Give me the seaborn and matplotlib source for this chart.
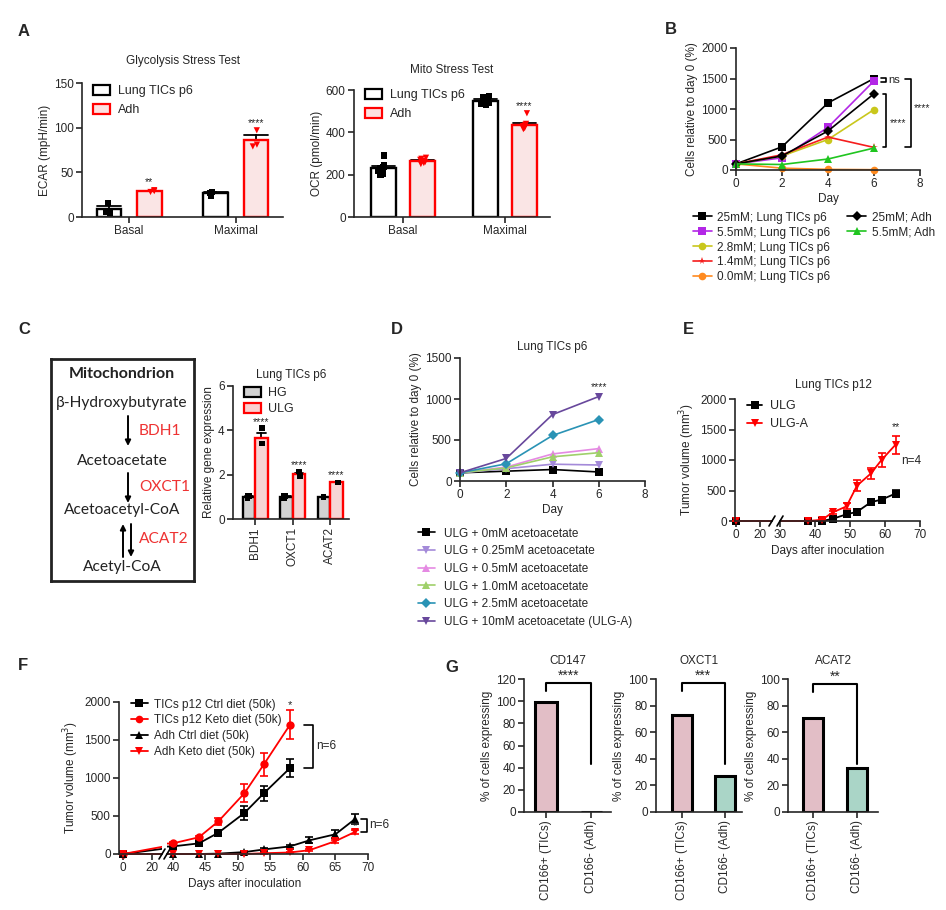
import numpy as np
import pandas as pd
import seaborn as sns
import matplotlib.pyplot as plt
from matplotlib.patches import Patch
from matplotlib.lines import Line2D
from matplotlib.markers import MarkerStyle
from matplotlib.transforms import Bbox, TransformedBbox

np.random.seed(3)

# ---------------- data ----------------
# A - seahorse
sh_groups = ['Lung TICs p6', 'Adh']
sh_phases = ['Basal', 'Maximal']
ecar_tic_basal = [16, 5, 6]
ecar_adh_basal = [28, 30, 29]
ecar_tic_max = [24, 28, 27]
ecar_adh_max = [97, 79, 81]
ocr_tic_basal = [290, 200, 245, 235, 220, 205, 230, 215]
ocr_adh_basal = [275, 260, 265, 270, 255, 280, 262, 250]
ocr_tic_max = [560, 570, 540, 530, 555, 545, 565, 535]
ocr_adh_max = [490, 440, 425, 430, 420, 435, 415, 425]

# B - glucose titration
b_days = [0, 2, 4, 6]
b_labels = ['25mM; Lung TICs p6', '5.5mM; Lung TICs p6', '2.8mM; Lung TICs p6',
            '1.4mM; Lung TICs p6', '0.0mM; Lung TICs p6', '25mM; Adh', '5.5mM; Adh']
b_25_tic = [100, 380, 1100, 1500]
b_55_tic = [100, 200, 700, 1460]
b_28_tic = [100, 230, 500, 990]
b_14_tic = [100, 250, 540, 370]
b_00_tic = [100, 30, 10, 5]
b_25_adh = [100, 230, 640, 1250]
b_55_adh = [100, 90, 180, 360]
b_colors = ['black', '#b327e6', '#c9c71c', '#f51d1d', '#ff8a1f', 'black', '#20c520']
b_markers = ['s', 's', 'o', '*', 'o', 'D', '^']

# C - ketolysis genes
c_genes = ['BDH1', 'OXCT1', 'ACAT2']
c_hg_bdh1 = [0.95, 1.05, 1.03]
c_hg_oxct1 = [0.95, 1.05, 1.03]
c_hg_acat2 = [1.0, 1.0, 1.0]
c_ulg_bdh1 = [4.1, 3.4, 3.4]
c_ulg_oxct1 = [2.15, 1.95, 1.95]
c_ulg_acat2 = [1.65, 1.65, 1.65]

# D - acetoacetate rescue
d_days = [0, 2, 4, 6]
d_labels = ['ULG + 0mM acetoacetate', 'ULG + 0.25mM acetoacetate', 'ULG + 0.5mM acetoacetate',
            'ULG + 1.0mM acetoacetate', 'ULG + 2.5mM acetoacetate', 'ULG + 10mM acetoacetate (ULG-A)']
d_0 = [100, 120, 140, 110]
d_025 = [100, 150, 205, 195]
d_05 = [100, 170, 330, 395]
d_10 = [100, 160, 295, 345]
d_25 = [100, 210, 555, 750]
d_100 = [100, 275, 810, 1030]
d_colors = ['black', '#a48ad9', '#e58ae3', '#9fd06a', '#2a93b5', '#68489c']
d_markers = ['s', 'v', '^', '^', 'D', 'v']

# E - xenograft ULG vs ULG-A
e_days = [0, 38, 42, 45, 49, 52, 56, 59, 63]
e_ulg = [0, 0, 0, 35, 110, 150, 310, 350, 450]
e_ulg_sem = [0, 0, 0, 10, 20, 20, 30, 30, 60]
e_ulga = [0, 0, 20, 140, 240, 580, 780, 1000, 1250]
e_ulga_sem = [0, 0, 10, 30, 50, 90, 90, 120, 150]

# F - keto diet
f_tic_days = [0, 40, 44, 47, 51, 54, 58]
f_tic_ctrl = [0, 100, 140, 280, 540, 800, 1130]
f_tic_ctrl_sem = [0, 20, 20, 30, 90, 100, 120]
f_tic_keto = [0, 140, 220, 430, 800, 1180, 1700]
f_tic_keto_sem = [0, 20, 20, 50, 120, 150, 190]
f_adh_days = [0, 40, 44, 47, 51, 54, 58, 61, 65, 68]
f_adh_ctrl = [0, 0, 0, 5, 25, 60, 100, 180, 260, 460]
f_adh_ctrl_sem = [0, 0, 0, 0, 10, 15, 20, 40, 50, 70]
f_adh_keto = [0, 0, 0, 0, 0, 10, 20, 50, 170, 290]
f_adh_keto_sem = [0, 0, 0, 0, 0, 5, 10, 15, 20, 30]

# G - single cell
g_groups = ['CD166+ (TICs)', 'CD166- (Adh)']
g_cd147 = [99, 0]
g_oxct1 = [73, 27]
g_acat2 = [71, 33]

# ---------------- style ----------------
sns.set_theme(style='ticks')
plt.rcParams['font.family'] = ['Liberation Sans', 'DejaVu Sans']
plt.rcParams.update({
    'font.size': 8.5, 'axes.labelsize': 8.5, 'axes.titlesize': 8.5,
    'xtick.labelsize': 8.5, 'ytick.labelsize': 8.5, 'legend.fontsize': 8.5,
    'axes.linewidth': 1.2, 'xtick.major.width': 1.2, 'ytick.major.width': 1.2,
    'xtick.major.size': 4, 'ytick.major.size': 4, 'axes.labelpad': 2,
    'xtick.major.pad': 2, 'ytick.major.pad': 2,
})

W, H = 946, 910
fig = plt.figure(figsize=(W / 100, H / 100), dpi=100)


def add_ax(l, t, r, b):
    ax = fig.add_axes([l / W, 1 - b / H, (r - l) / W, (b - t) / H])
    ax.spines[['top', 'right']].set_visible(False)
    return ax


def ftext(x, y, s, **kw):
    fig.text(x / W, 1 - y / H, s, **kw)


def hue_bars(ax, df, face, edge, width, gap, marker_by_color=None, ms=4.5):
    hue_order = list(dict.fromkeys(df['grp']))
    sns.barplot(df, x='x', y='y', hue='grp', hue_order=hue_order, palette=face,
                width=width, gap=gap, errorbar='se', capsize=0.45,
                err_kws={'linewidth': 1.3}, linewidth=1.7, edgecolor='black',
                legend=False, ax=ax)
    bars = []
    for cont, g in zip(ax.containers, hue_order):
        for p in cont:
            p.set_edgecolor(edge[g])
            bars.append(p)
    for ln in ax.lines:
        xm = np.mean(ln.get_xdata())
        p = min(bars, key=lambda q: abs(q.get_x() + q.get_width() / 2 - xm))
        ln.set_color(p.get_edgecolor())
        ln.set_zorder(0.9)
    n0 = len(ax.collections)
    pt_colors = {g: ('red' if edge[g] == 'red' and marker_by_color else 'black') for g in hue_order}
    sns.stripplot(df, x='x', y='y', hue='grp', hue_order=hue_order, palette=pt_colors,
                  dodge=True, jitter=0.09, size=ms, marker='s', linewidth=0,
                  legend=False, ax=ax, zorder=3)
    if marker_by_color:
        m = MarkerStyle('v')
        vpath = m.get_path().transformed(m.get_transform())
        for coll in ax.collections[n0:]:
            fc = coll.get_facecolor()
            if len(fc) and fc[0][0] > 0.9 and fc[0][1] < 0.1:
                coll.set_paths([vpath])
    return ax.containers


def long_df(xs, ys, groups):
    rows = []
    for x, y, g in zip(xs, ys, groups):
        rows.append(pd.DataFrame({'x': x, 'y': y, 'grp': g}))
    return pd.concat(rows, ignore_index=True)


# ---------------- panel A ----------------
sh_face = {'Lung TICs p6': 'white', 'Adh': '#fde1e1'}
sh_edge = {'Lung TICs p6': 'black', 'Adh': 'red'}
sh_handles = [Patch(facecolor='white', edgecolor='black', lw=1.6),
              Patch(facecolor='#fde1e1', edgecolor='red', lw=1.6)]

axA1 = add_ax(82, 83, 283, 217)
gly = long_df([['Basal'] * 3, ['Basal'] * 3, ['Maximal'] * 3, ['Maximal'] * 3],
              [ecar_tic_basal, ecar_adh_basal, ecar_tic_max, ecar_adh_max],
              ['Lung TICs p6', 'Adh', 'Lung TICs p6', 'Adh'])
conts = hue_bars(axA1, gly, sh_face, sh_edge, 0.76, 0.4, marker_by_color=True)
axA1.set_xlim(-0.44, 1.44)
axA1.set_ylim(0, 150)
axA1.set_yticks([0, 50, 100, 150])
axA1.set_xlabel('')
axA1.set_ylabel('ECAR (mpH/min)')
axA1.set_title('Glycolysis Stress Test', pad=14)
for p, s, yy in zip(conts[1], ['**', '****'], [34, 100]):
    axA1.text(p.get_x() + p.get_width() / 2, yy, s, ha='center', va='bottom', fontsize=7.5)
axA1.legend(sh_handles, sh_groups, loc='upper left', bbox_to_anchor=(0.0, 1.07),
            frameon=False, handlelength=1.3, handleheight=0.9, labelspacing=0.5,
            handletextpad=0.7, fontsize=9)

axA2 = add_ax(354, 90, 550, 217)
mito = long_df([['Basal'] * 8, ['Basal'] * 8, ['Maximal'] * 8, ['Maximal'] * 8],
               [ocr_tic_basal, ocr_adh_basal, ocr_tic_max, ocr_adh_max],
               ['Lung TICs p6', 'Adh', 'Lung TICs p6', 'Adh'])
conts = hue_bars(axA2, mito, sh_face, sh_edge, 0.76, 0.37, marker_by_color=True)
axA2.set_xlim(-0.48, 1.44)
axA2.set_ylim(0, 600)
axA2.set_yticks([0, 200, 400, 600])
axA2.set_xlabel('')
axA2.set_ylabel('OCR (pmol/min)')
axA2.set_title('Mito Stress Test', pad=12)
p = conts[1][1]
axA2.text(p.get_x() + p.get_width() / 2, 500, '****', ha='center', va='bottom', fontsize=7.5)
axA2.legend(sh_handles, sh_groups, loc='upper left', bbox_to_anchor=(0.0, 1.097),
            frameon=False, handlelength=1.3, handleheight=0.9, labelspacing=0.5,
            handletextpad=0.7, fontsize=9)

# ---------------- panel B ----------------
axB = add_ax(736, 48, 920, 170)
b_vals = [b_25_tic, b_55_tic, b_28_tic, b_14_tic, b_00_tic, b_25_adh, b_55_adh]
b_df = long_df([b_days] * 7, b_vals, b_labels)
sns.lineplot(b_df, x='x', y='y', hue='grp', style='grp', hue_order=b_labels,
             palette=dict(zip(b_labels, b_colors)), markers=dict(zip(b_labels, b_markers)),
             dashes=False, markersize=5.5, markeredgewidth=0, linewidth=1.2,
             legend=False, ax=axB)
for ln in axB.lines:
    ln.set_clip_on(False)
axB.set_xlim(0, 8)
axB.set_ylim(0, 2000)
axB.set_xticks([0, 2, 4, 6, 8])
axB.set_yticks([0, 500, 1000, 1500, 2000])
axB.set_xlabel('Day')
axB.set_ylabel('Cells relative to day 0 (%)')
bk = dict(color='black', lw=1.2, clip_on=False)
axB.plot([6.3, 6.5, 6.5, 6.3], [1510, 1510, 1440, 1440], **bk)
axB.text(6.62, 1475, 'ns', va='center', fontsize=8)
axB.plot([6.4, 6.52, 6.52, 6.4], [1246, 1246, 377, 377], **bk)
axB.text(6.68, 770, '****', va='center', fontsize=7.5)
axB.plot([7.35, 7.6, 7.6, 7.35], [1492, 1492, 377, 377], **bk)
axB.text(7.75, 1016, '****', va='center', fontsize=7.5)
b_handles = [Line2D([], [], color=c, marker=m, ms=5.5, mew=0, lw=1.2)
             for c, m in zip(b_colors, b_markers)]
blank = Line2D([], [], alpha=0)
fig.legend(b_handles[:5] + [b_handles[5], b_handles[6], blank, blank, blank],
           b_labels[:5] + [b_labels[5], b_labels[6], '', '', ''],
           ncol=2, loc='upper left', bbox_to_anchor=(682 / W, 1 - 201 / H), frameon=False,
           handlelength=1.6, labelspacing=0.25, columnspacing=1.4, handletextpad=0.5)

# ---------------- panel C ----------------
axCb = fig.add_axes([51 / W, 1 - 581 / H, (194 - 51) / W, (581 - 359) / H])
axCb.set_xlim(51, 194)
axCb.set_ylim(581, 359)
axCb.set_xticks([])
axCb.set_yticks([])
for s in axCb.spines.values():
    s.set_linewidth(2)
    s.set_color('#222222')
cfont = ['Lato', 'DejaVu Sans']
axCb.text(122, 374, 'Mitochondrion', ha='center', va='center', fontsize=11.5,
          fontweight='bold', family=cfont, color='#222222')
for yy, s in [(403, 'β-Hydroxybutyrate'), (461, 'Acetoacetate'), (510, 'Acetoacetyl-CoA'),
              (567, 'Acetyl-CoA')]:
    axCb.text(122, yy, s, ha='center', va='center', fontsize=11.2, family=cfont, color='#222222')
for yy, s in [(431, 'BDH1'), (487, 'OXCT1'), (539, 'ACAT2')]:
    axCb.text(139, yy, s, ha='left', va='center', fontsize=11.2, color='#ee3333', family=cfont)
arr = dict(arrowstyle='-|>', color='black', lw=1.4, mutation_scale=8, shrinkA=0, shrinkB=0)
axCb.annotate('', xy=(128, 446), xytext=(128, 416), arrowprops=arr)
axCb.annotate('', xy=(128, 503), xytext=(128, 473), arrowprops=arr)
axCb.annotate('', xy=(123, 524), xytext=(123, 557), arrowprops=arr)
axCb.annotate('', xy=(131, 557), xytext=(131, 524), arrowprops=arr)

axC = add_ax(233, 386, 349, 519)
c_df = long_df([['BDH1'] * 3, ['OXCT1'] * 3, ['ACAT2'] * 3] * 2,
               [c_hg_bdh1, c_hg_oxct1, c_hg_acat2, c_ulg_bdh1, c_ulg_oxct1, c_ulg_acat2],
               ['HG'] * 3 + ['ULG'] * 3)
conts = hue_bars(axC, c_df, {'HG': '#d2d2d2', 'ULG': '#fbd0d0'}, {'HG': 'black', 'ULG': 'red'},
                 0.66, 0.0, ms=4)
axC.set_xlim(-0.59, 2.5)
axC.set_ylim(0, 6)
axC.set_yticks([0, 2, 4, 6])
axC.set_xlabel('')
axC.set_ylabel('Relative gene expression')
axC.tick_params(axis='x', labelrotation=90)
axC.set_title('Lung TICs p6', pad=6)
for p, yy in zip(conts[1], [4.15, 2.2, 1.75]):
    axC.text(p.get_x() + p.get_width() / 2, yy, '****', ha='center', va='bottom', fontsize=7.5)
axC.legend([Patch(facecolor='#d2d2d2', edgecolor='black', lw=1.6),
            Patch(facecolor='#fbd0d0', edgecolor='red', lw=1.6)], ['HG', 'ULG'],
           loc='upper left', bbox_to_anchor=(0.0, 1.08), frameon=False, handlelength=1.3,
           handleheight=0.9, labelspacing=0.3, handletextpad=0.6, fontsize=9)

# ---------------- panel D ----------------
axD = add_ax(460, 358, 645, 481)
d_vals = [d_0, d_025, d_05, d_10, d_25, d_100]
d_df = long_df([d_days] * 6, d_vals, d_labels)
sns.lineplot(d_df, x='x', y='y', hue='grp', style='grp', hue_order=d_labels,
             palette=dict(zip(d_labels, d_colors)), markers=dict(zip(d_labels, d_markers)),
             dashes=False, markersize=5.5, markeredgewidth=0, linewidth=1.2,
             legend=False, ax=axD)
for ln in axD.lines:
    ln.set_clip_on(False)
axD.set_xlim(0, 8)
axD.set_ylim(0, 1500)
axD.set_xticks([0, 2, 4, 6, 8])
axD.set_yticks([0, 500, 1000, 1500])
axD.set_xlabel('Day')
axD.set_ylabel('Cells relative to day 0 (%)')
axD.set_title('Lung TICs p6', pad=6)
axD.text(6, 1090, '****', ha='center', va='bottom', fontsize=7.5)
fig.legend([Line2D([], [], color=c, marker=m, ms=5.5, mew=0, lw=1.2)
            for c, m in zip(d_colors, d_markers)], d_labels,
           loc='upper left', bbox_to_anchor=(407 / W, 1 - 517 / H), frameon=False,
           handlelength=1.5, labelspacing=0.48, handletextpad=0.7)


# ---------------- broken-axis growth curves ----------------
def broken(l, r1, l2, r, t, b, xl1, xl2, xt1, xt2, ylim, yt):
    a1 = add_ax(l, t, r1, b)
    a2 = add_ax(l2, t, r, b)
    a1.set_xlim(*xl1)
    a2.set_xlim(*xl2)
    a1.set_xticks(xt1)
    a2.set_xticks(xt2)
    for a in (a1, a2):
        a.set_ylim(*ylim)
    a1.set_yticks(yt)
    a2.spines['left'].set_visible(False)
    a2.tick_params(axis='y', left=False, labelleft=False)
    for xx in (r1, l2):
        fig.add_artist(Line2D([(xx - 3) / W, (xx + 3) / W], [1 - (b + 5) / H, 1 - (b - 5) / H],
                              color='black', lw=1.2))
    return a1, a2


def growth(axes, days, vals, sems, color, marker):
    for k, a in enumerate(axes):
        df = pd.DataFrame({'x': days, 'y': vals})
        n0 = len(a.lines)
        sns.lineplot(df, x='x', y='y', color=color, marker=marker, markersize=6,
                     markeredgewidth=0, linewidth=1.3, ax=a)
        a.errorbar(days, vals, yerr=sems, fmt='none', ecolor=color, elinewidth=1.2,
                   capsize=3, capthick=1.2)
        box = Bbox([[-0.2, -0.1], [1, 1.1]]) if k == 0 else Bbox([[0, -0.1], [1.05, 1.1]])
        for ln in a.lines[n0:]:
            ln.set_clip_box(TransformedBbox(box, a.transAxes))
        a.set_xlabel('')
        a.set_ylabel('')


# E
aE1, aE2 = broken(735, 772, 780, 920, 399, 521, (-1, 30), (30, 70), [0, 20], [30, 40, 50, 60, 70],
                  (0, 2000), [0, 500, 1000, 1500, 2000])
growth((aE1, aE2), e_days, e_ulg, e_ulg_sem, 'black', 's')
growth((aE1, aE2), e_days, e_ulga, e_ulga_sem, 'red', 'v')
aE1.set_ylabel('Tumor volume (mm$^3$)')
ftext(828, 551, 'Days after inoculation', ha='center', va='center', fontsize=8.5)
ftext(833, 385, 'Lung TICs p12', ha='center', va='center', fontsize=8.5)
aE2.text(63, 1460, '**', ha='center', va='bottom', fontsize=7.5)
aE2.text(64.5, 980, 'n=4', ha='left', va='center', fontsize=8.5)
fig.legend([Line2D([], [], color='black', marker='s', ms=6, mew=0, lw=1.3),
            Line2D([], [], color='red', marker='v', ms=6, mew=0, lw=1.3)], ['ULG', 'ULG-A'],
           loc='upper left', bbox_to_anchor=(736 / W, 1 - 389 / H), frameon=False,
           handlelength=1.2, labelspacing=0.45, handletextpad=0.6, fontsize=9)

# F
aF1, aF2 = broken(119, 162, 167, 368, 702, 854, (-2.8, 26.9), (39.1, 70), [0, 20],
                  [40, 45, 50, 55, 60, 65, 70], (0, 2000), [0, 500, 1000, 1500, 2000])
growth((aF1, aF2), f_tic_days, f_tic_ctrl, f_tic_ctrl_sem, 'black', 's')
growth((aF1, aF2), f_tic_days, f_tic_keto, f_tic_keto_sem, 'red', 'o')
growth((aF1, aF2), f_adh_days, f_adh_ctrl, f_adh_ctrl_sem, 'black', '^')
growth((aF1, aF2), f_adh_days, f_adh_keto, f_adh_keto_sem, 'red', 'v')
aF1.set_ylabel('Tumor volume (mm$^3$)')
ftext(245, 884, 'Days after inoculation', ha='center', va='center', fontsize=8.5)
aF2.text(58, 1890, '*', ha='center', va='bottom', fontsize=8)
aF2.text(68, 300, '*', ha='center', va='bottom', fontsize=8)
aF2.plot([60.2, 61.5, 61.5, 60.2], [1700, 1700, 1130, 1130], **bk)
aF2.text(62, 1415, 'n=6', ha='left', va='center', fontsize=8.5)
aF2.plot([69, 69.8, 69.8, 69], [460, 460, 290, 290], **bk)
aF2.text(70.2, 375, 'n=6', ha='left', va='center', fontsize=8.5)
fig.legend([Line2D([], [], color=c, marker=m, ms=5.5, mew=0, lw=1.3)
            for c, m in [('black', 's'), ('red', 'o'), ('black', '^'), ('red', 'v')]],
           ['TICs p12 Ctrl diet (50k)', 'TICs p12 Keto diet (50k)', 'Adh Ctrl diet (50k)',
            'Adh Keto diet (50k)'],
           loc='upper left', bbox_to_anchor=(120 / W, 1 - 688 / H), frameon=False,
           handlelength=1.5, labelspacing=0.32, handletextpad=0.5, fontsize=8.5)

# ---------------- panel G ----------------
g_specs = [('CD147', g_cd147, (524, 611), (-0.49, 1.44), 120, (109, 116, 43), '****'),
           ('OXCT1', g_oxct1, (656, 742), (-0.6, 1.4), 100, (91, 97, 36), '***'),
           ('ACAT2', g_acat2, (788, 878), (-0.57, 1.48), 100, (90, 96, 36), '**')]
for title, vals, (l, r), xl, top, (y0, y1, y2), stars in g_specs:
    a = add_ax(l, 679, r, 812)
    sns.barplot(x=g_groups, y=vals, hue=g_groups, palette=['#e8b8c3', '#a3dcca'], width=0.47,
                edgecolor='black', linewidth=2.2, legend=False, ax=a)
    a.set_xlim(*xl)
    a.set_ylim(0, top)
    a.set_yticks(range(0, top + 1, 20))
    a.set_ylabel('% of cells expressing')
    a.tick_params(axis='x', labelrotation=90)
    a.set_title(title, pad=11)
    a.plot([0, 0, 1, 1], [y0, y1, y1, y2], color='black', lw=1.5, clip_on=False)
    a.text(0.5, y1 + top * 0.005, stars, ha='center', va='bottom', fontsize=10)

# ---------------- panel letters ----------------
for s, x, y in [('A', 18, 32), ('B', 665, 30), ('C', 18, 330), ('D', 391, 330),
                ('E', 683, 330), ('F', 18, 665), ('G', 445, 667)]:
    ftext(x, y, s, ha='left', va='center', fontsize=12, fontweight='bold')

fig.savefig('out.png', dpi=100)
